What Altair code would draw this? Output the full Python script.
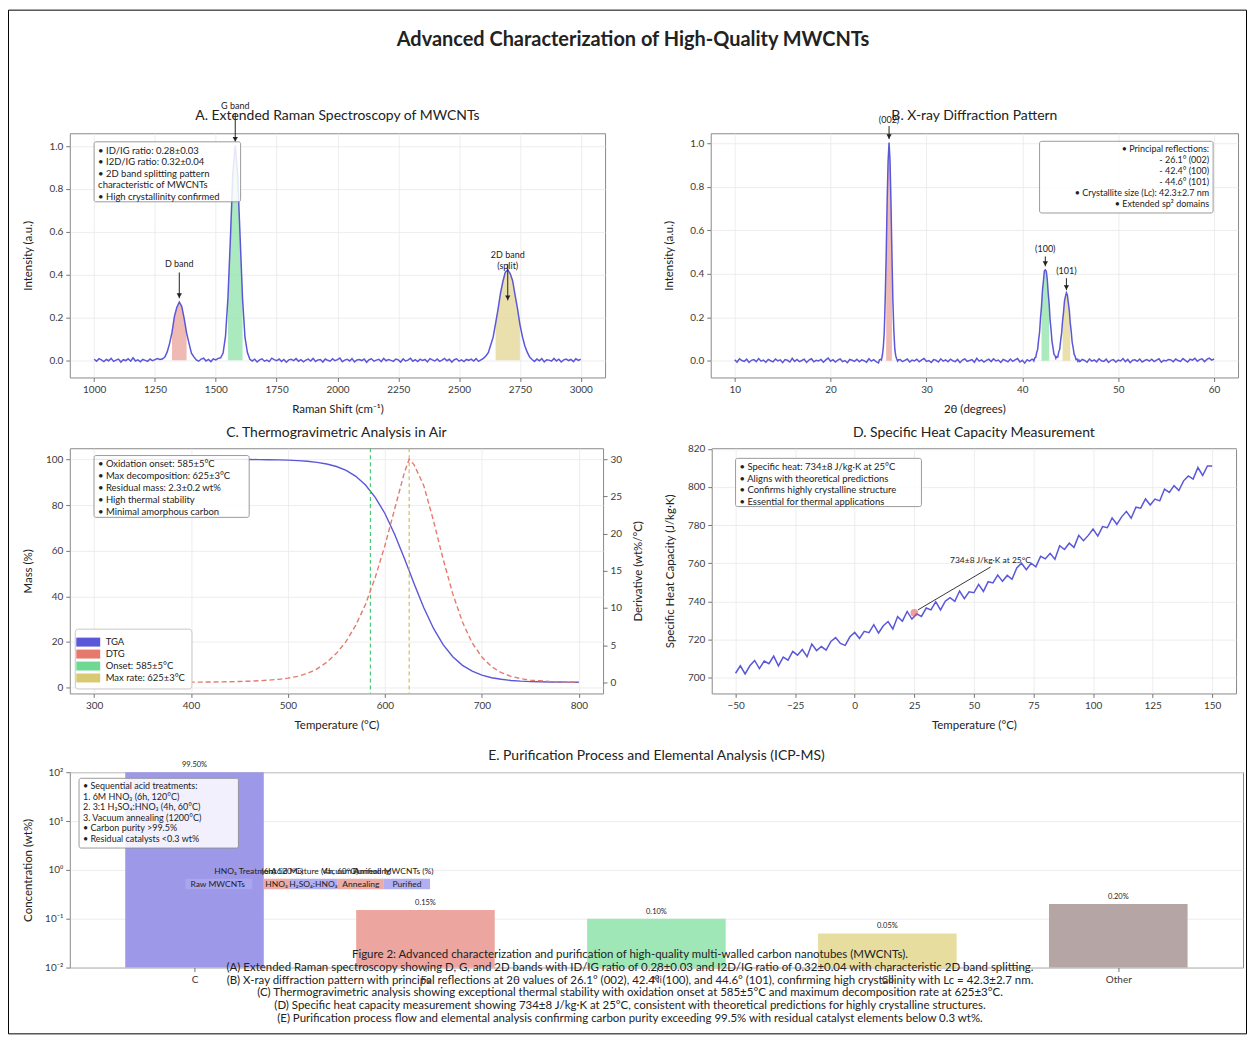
import altair as alt
import numpy as np
import pandas as pd

FONT = "Lato"
BLUE = "#5b57d9"
FRAME = "#8a8a8a"
GRID = "#e9e9e9"
INK = "#222222"

# ================= A. Raman =================
raman_shift = list(range(1000, 3001, 10))
raman_intensity = [
    0.005, -0.004, 0.008, 0.002, -0.006, 0.004, -0.002, 0.009, -0.005, 0.001,
    0.006, -0.008, 0.003, -0.001, 0.007, -0.004, 0.012, -0.003, 0.002, -0.007,
    0.004, 0.000, -0.005, 0.006, -0.002, 0.003, 0.008, 0.004,
    0.006, 0.014, 0.038, 0.078, 0.130, 0.205, 0.248, 0.272, 0.252, 0.196,
    0.128, 0.079, 0.033, 0.016, 0.002,
    -0.004, 0.006, 0.010, -0.003, 0.004, -0.006, 0.007, 0.002, 0.009,
    0.012, 0.034, 0.113, 0.292, 0.566, 0.872, 1.003, 0.862, 0.575, 0.287,
    0.108, 0.036, 0.005,
    -0.003, 0.005, -0.008, 0.002, 0.007, -0.004, 0.001, -0.006, 0.010, 0.003,
    -0.002, 0.006, -0.005, 0.004, -0.009, 0.002, 0.005, -0.001, 0.008, -0.004,
    0.003, -0.007, 0.001, 0.006, -0.003, 0.009, -0.005, 0.002, 0.004, -0.008,
    0.006, 0.000, -0.004, 0.007, -0.002, 0.003, 0.011, -0.006, 0.001, 0.005,
    -0.003, 0.008, -0.007, 0.002, 0.004, -0.001, 0.006, -0.009, 0.003, 0.007,
    -0.004, 0.001, 0.005, -0.006, 0.009, -0.002, 0.004, 0.000, -0.005, 0.006,
    0.002, -0.008, 0.007, -0.003, 0.001, 0.010, -0.004, 0.003, -0.006, 0.005,
    -0.001, 0.004, -0.007, 0.008, 0.002, -0.003, 0.006, -0.005, 0.001, 0.009,
    -0.002, 0.005, -0.008, 0.003, 0.007, -0.004, 0.002, -0.006, 0.004, 0.000,
    0.006, -0.003, 0.008, -0.005, 0.002,
    0.009, 0.020, 0.036, 0.072, 0.108, 0.172, 0.238, 0.312, 0.368, 0.412,
    0.422, 0.405, 0.372, 0.306, 0.243, 0.168, 0.112, 0.068, 0.038, 0.015,
    0.004,
    -0.005, 0.006, -0.002, 0.008, -0.007, 0.003, 0.001, -0.004, 0.009, -0.003,
    0.005, -0.008, 0.002, 0.006, -0.001, 0.004, -0.006, 0.007, 0.000, 0.005,
]
raman_band_names = ["D", "G", "2D"]
raman_band_lo = [1320, 1550, 2650]
raman_band_hi = [1380, 1610, 2750]
band_colors = ["#eaa29b", "#8fe3aa", "#e3d691"]
raman_ann_text = ["D band", "G band", "2D band\n(split)"]
raman_ann_x = [1350, 1580, 2700]
raman_ann_text_y = [0.425, 1.165, 0.47]
raman_arrow_y0 = [0.41, 1.15, 0.45]
raman_arrow_y1 = [0.29, 1.02, 0.28]
raman_box = [1000, 1602, 0.74, 1.02]
raman_box_lines = ["• ID/IG ratio: 0.28±0.03", "• I2D/IG ratio: 0.32±0.04",
                   "• 2D band splitting pattern", "\u00a0\u00a0characteristic of MWCNTs",
                   "• High crystallinity confirmed"]

# ================= B. XRD =================
xrd_two_theta = np.concatenate([
    np.linspace(10, 25, 61), np.linspace(25.1, 27.1, 21), np.linspace(27.25, 41.0, 56),
    np.linspace(41.1, 45.9, 49), np.linspace(46.0, 60.0, 57)]).round(2).tolist()
xrd_intensity = [
    0.004, -0.006, 0.009, 0.001, -0.003, 0.007, -0.008, 0.002, 0.005, -0.004,
    0.010, -0.002, 0.003, -0.007, 0.006, 0.000, -0.005, 0.008, -0.001, 0.004,
    -0.009, 0.005, 0.002, -0.006, 0.011, -0.003, 0.006, -0.004, 0.001, 0.007,
    -0.008, 0.003, 0.009, -0.005, 0.002, -0.001, 0.006, -0.007, 0.004, 0.012,
    -0.002, 0.005, -0.006, 0.003, 0.008, -0.004, 0.001, -0.009, 0.006, 0.002,
    -0.003, 0.007, -0.005, 0.004, 0.000, -0.007, 0.009, -0.002, 0.005, -0.004,
    -0.010,
    0.004, 0.006, 0.003, 0.024, 0.061, 0.131, 0.284, 0.482, 0.731, 0.918,
    1.004, 0.921, 0.729, 0.489, 0.275, 0.138, 0.053, 0.022, 0.008, -0.002, 0.005,
    0.006, -0.004, 0.002, 0.008, -0.006, 0.003, -0.001, 0.007, -0.005, 0.004,
    0.010, -0.003, 0.001, -0.008, 0.005, 0.002, -0.006, 0.009, -0.002, 0.004,
    -0.005, 0.007, 0.000, -0.004, 0.006, -0.009, 0.003, 0.008, -0.003, 0.001,
    0.005, -0.007, 0.011, -0.002, 0.004, -0.006, 0.002, 0.007, -0.004, 0.009,
    -0.001, 0.003, -0.008, 0.006, 0.001, -0.005, 0.008, -0.003, 0.004, 0.010,
    -0.006, 0.002, -0.011, 0.005, -0.002, 0.007,
    0.006, -0.001, 0.013, 0.015, 0.038, 0.052, 0.096, 0.131, 0.198,
    0.249, 0.322, 0.366, 0.414, 0.418, 0.412, 0.375, 0.311, 0.261, 0.186,
    0.141, 0.087, 0.061, 0.029, 0.025, 0.011, 0.019, 0.017, 0.041, 0.053,
    0.094, 0.127, 0.183, 0.224, 0.276, 0.296, 0.313, 0.303, 0.266, 0.232,
    0.174, 0.135, 0.085, 0.061, 0.030, 0.022, 0.006, 0.008, -0.003, 0.004,
    -0.004, 0.006, 0.001, -0.007, 0.008, -0.002, 0.004, -0.005, 0.009, 0.000,
    -0.003, 0.007, -0.008, 0.002, 0.005, -0.006, 0.003, -0.001, 0.010, -0.004,
    0.006, -0.009, 0.002, 0.004, -0.003, 0.008, -0.006, 0.001, 0.005, -0.002,
    0.007, -0.004, 0.003, 0.009, -0.007, 0.002, -0.001, 0.006, 0.004, -0.005,
    0.008, 0.001, -0.003, 0.010, 0.002, -0.006, 0.007, 0.003, 0.011, -0.002,
    0.005, 0.009, -0.004, 0.006, 0.012, 0.003, 0.008,
]
xrd_band_names = ["(002)", "(100)", "(101)"]
xrd_band_lo = [25.8, 42.0, 44.2]
xrd_band_hi = [26.4, 42.8, 45.0]
xrd_ann_text = ["(002)", "(100)", "(101)"]
xrd_ann_x = [26.1, 42.4, 44.6]
xrd_ann_text_y = [1.085, 0.49, 0.39]
xrd_arrow_y0 = [1.08, 0.48, 0.38]
xrd_arrow_y1 = [1.02, 0.435, 0.325]
xrd_box = [41.8, 59.9, 0.68, 1.01]
xrd_box_lines = ["• Principal reflections:", "- 26.1° (002)", "- 42.4° (100)", "- 44.6° (101)",
                 "• Crystallite size (Lc): 42.3±2.7 nm", "• Extended sp² domains"]

# ================= C. TGA =================
tga_temp = [300, 310, 320, 330, 340, 350, 360, 370, 380, 390, 400, 410, 420, 430, 440,
            450, 460, 470, 480, 490, 500, 510, 520, 530, 540, 550, 560, 570, 580, 590,
            600, 610, 620, 625, 630, 640, 650, 660, 670, 680, 690, 700, 710, 720, 730,
            740, 750, 760, 770, 780, 790, 800]
tga_mass = [100.0, 100.0, 100.0, 100.0, 100.0, 100.0, 100.0, 100.0, 100.0, 100.0,
            100.0, 100.0, 100.0, 100.0, 100.0,
            100.0, 99.95, 99.92, 99.87, 99.79, 99.67, 99.48, 99.18, 98.7, 98.0,
            96.9, 95.2, 92.6, 88.8, 83.4, 76.3, 67.2, 56.7, 51.2,
            45.6, 35.1, 26.0, 18.8, 13.5, 9.7, 7.2, 5.4, 4.3, 3.6, 3.1, 2.8, 2.6,
            2.5, 2.4, 2.4, 2.35, 2.3]
dtg_rate = [0.0, 0.0, 0.0, 0.0, 0.0, 0.0, 0.0, 0.0, 0.01, 0.01,
            0.02, 0.03, 0.04, 0.06, 0.08, 0.11, 0.15, 0.21, 0.29, 0.40,
            0.56, 0.8, 1.2, 1.8, 2.7, 3.9, 5.5, 7.7, 10.5, 14.1, 18.4, 23.3, 28.2,
            30.0,
            29.3, 26.5, 21.8, 16.6, 11.9, 8.1, 5.3, 3.4, 2.1, 1.3, 0.8, 0.5, 0.3,
            0.2, 0.1, 0.06, 0.04, 0.02]
tga_legend_names = ["TGA", "DTG", "Onset: 585±5°C", "Max rate: 625±3°C"]
tga_legend_colors = ["#5b57d9", "#e57a6c", "#6fd893", "#d9c972"]
onset_temp = 585
maxrate_temp = 625
tga_box = [300, 460, 74.6, 101.7]
tga_box_lines = ["• Oxidation onset: 585±5°C", "• Max decomposition: 625±3°C",
                 "• Residual mass: 2.3±0.2 wt%", "• High thermal stability",
                 "• Minimal amorphous carbon"]

# ================= D. Cp =================
cp_temp = list(range(-50, 151, 2))
cp_value = [
    702.3, 706.2, 701.9, 706.2, 709.0, 704.7, 708.7, 707.3, 711.3, 706.2,
    710.8, 709.2, 713.8, 711.8, 714.7, 711.0, 717.6, 714.2, 716.3, 714.4,
    719.0, 721.0, 717.9, 716.9, 721.4, 723.7, 720.5, 724.3, 723.6, 727.8,
    723.4, 727.2, 729.4, 725.5, 732.0, 729.6, 734.7, 730.7, 733.4, 732.1,
    736.5, 735.5, 739.8, 735.5, 740.1, 741.9, 740.0, 745.4, 741.4, 745.0,
    744.5, 748.9, 745.2, 750.3, 749.7, 753.8, 750.5, 753.6, 751.6, 757.5,
    760.0, 756.6, 760.0, 758.1, 763.6, 762.3, 765.2, 762.1, 769.2, 767.2,
    770.5, 768.3, 774.6, 771.8, 774.6, 777.9, 774.2, 779.2, 778.6, 783.8,
    780.4, 784.3, 787.2, 783.6, 789.4, 788.9, 793.7, 790.5, 793.6, 792.7,
    798.9, 797.1, 800.7, 798.1, 803.2, 805.8, 804.1, 810.2, 806.0, 811.0,
    811.0,
]
cp_mark_t = [25]
cp_mark_v = [734]
cp_ann_text = ["734±8 J/kg·K at 25°C"]
cp_ann_x = [40]
cp_ann_y = [761.5]
cp_line_x0, cp_line_y0, cp_line_x1, cp_line_y1 = [26.5], [735.5], [57], [758]
cp_box = [-50, 28, 789.7, 815]
cp_box_lines = ["• Specific heat: 734±8 J/kg·K at 25°C", "• Aligns with theoretical predictions",
                "• Confirms highly crystalline structure", "• Essential for thermal applications"]

# ================= E. ICP-MS =================
elements = ["C", "Fe", "Ni", "Co", "Other"]
element_pos = [0, 1, 2, 3, 4]
element_conc = [99.50, 0.15, 0.10, 0.05, 0.20]
element_colors = ["#9e98e8", "#eca69f", "#9fe7b6", "#e7dd9f", "#b5a5a5"]
e_box = [-0.50, 0.19, 2.8, 75]
e_box_lines = ["• Sequential acid treatments:", "\u00a0\u00a0\u00a01. 6M HNO₃ (6h, 120°C)",
               "\u00a0\u00a0\u00a02. 3:1 H₂SO₄:HNO₃ (4h, 60°C)", "\u00a0\u00a0\u00a03. Vacuum annealing (1200°C)",
               "• Carbon purity >99.5%", "• Residual catalysts <0.3 wt%"]
flow_box_x0 = [-0.04, 0.30, 0.41, 0.62, 0.82]
flow_box_x1 = [0.25, 0.41, 0.62, 0.82, 1.02]
flow_box_y0 = [0.40, 0.40, 0.40, 0.40, 0.40]
flow_box_y1 = [0.66, 0.66, 0.66, 0.66, 0.66]
flow_box_fill = ["#aaa6f0", "#eaa39b", "#aaa6f0", "#eaa39b", "#aaa6f0"]
flow_box_label = ["Raw MWCNTs", "HNO₃", "H₂SO₄:HNO₃", "Annealing", "Purified"]
flow_box_label_x = [0.10, 0.355, 0.515, 0.72, 0.92]
flow_top_text = ["HNO₃ Treatment", "(6h, 120°C)", "Acid Mixture (4h, 60°C)", "Vacuum Annealing", "Purified MWCNTs (%)"]
flow_top_x = [0.22, 0.38, 0.52, 0.70, 0.86]
flow_top_y = [0.95, 0.95, 0.95, 0.95, 0.95]
caption_lines = [
    "Figure 2: Advanced characterization and purification of high-quality multi-walled carbon nanotubes (MWCNTs).",
    "(A) Extended Raman spectroscopy showing D, G, and 2D bands with ID/IG ratio of 0.28±0.03 and I2D/IG ratio of 0.32±0.04 with characteristic 2D band splitting.",
    "(B) X-ray diffraction pattern with principal reflections at 2θ values of 26.1° (002), 42.4° (100), and 44.6° (101), confirming high crystallinity with Lc = 42.3±2.7 nm.",
    "(C) Thermogravimetric analysis showing exceptional thermal stability with oxidation onset at 585±5°C and maximum decomposition rate at 625±3°C.",
    "(D) Specific heat capacity measurement showing 734±8 J/kg·K at 25°C, consistent with theoretical predictions for highly crystalline structures.",
    "(E) Purification process flow and elemental analysis confirming carbon purity exceeding 99.5% with residual catalyst elements below 0.3 wt%.",
]

# ================= helpers =================
XAX = dict(grid=True, tickSize=4, labelPadding=3, titlePadding=9, labelOverlap=False)
YAX = dict(grid=True, tickSize=4, labelPadding=3, titlePadding=10, minExtent=26, maxExtent=26,
           labelOverlap=False)


def make_enc(scale, axis):
    def f(field):
        return dict(field=field, type="quantitative", scale=scale, axis=axis)
    return f


def title_mark(text, w, y):
    return alt.Chart(pd.DataFrame({"t": [text]})).mark_text(
        fontSize=14, font=FONT, color=INK, align="center", baseline="middle"
    ).encode(x=alt.value(w / 2), y=alt.value(y), text="t:N")


def text_box(X, Y, box, lines, align="left", fs=9, lh=11.5):
    x0, x1, y0, y1 = box
    rect = alt.Chart(pd.DataFrame({"bx0": [x0], "bx1": [x1], "by0": [y0], "by1": [y1]})).mark_rect(
        fill="white", fillOpacity=0.85, stroke="#8f8f8f", strokeWidth=0.9, cornerRadius=2
    ).encode(x=alt.X(**X("bx0")), x2="bx1", y=alt.Y(**Y("by0")), y2="by1")
    tx = x0 if align == "left" else x1
    txt = alt.Chart(pd.DataFrame({"tx": [tx], "ty": [y1], "t": ["\n".join(lines)]})).mark_text(
        align=align, baseline="top", dx=4 if align == "left" else -4, dy=4,
        fontSize=fs, lineHeight=lh, lineBreak="\n", font=FONT, color=INK
    ).encode(x=alt.X(**X("tx")), y=alt.Y(**Y("ty")), text="t:N")
    return [rect, txt]


def arrows(X, Y, xs, y0s, y1s):
    df = pd.DataFrame({"ax": xs, "ay0": y0s, "ay1": y1s})
    shaft = alt.Chart(df).mark_rule(color=INK, strokeWidth=1).encode(
        x=alt.X(**X("ax")), y=alt.Y(**Y("ay0")), y2="ay1")
    head = alt.Chart(df).mark_point(shape="triangle-down", filled=True, size=28, color=INK,
                                    opacity=1, yOffset=-2.6).encode(
        x=alt.X(**X("ax")), y=alt.Y(**Y("ay1")))
    return [shaft, head]


def band_fill_df(xv, yv, names, lo, hi, colors):
    rows = []
    for n, a, b, c in zip(names, lo, hi, colors):
        for x, y in zip(xv, yv):
            if a <= x <= b:
                rows.append({"x": x, "y": y, "band": n, "col": c})
    return pd.DataFrame(rows)


# ================= Panel A =================
W_A, H_A = 537, 245
XA = make_enc(alt.Scale(domain=[900, 3100], nice=False, zero=False),
              alt.Axis(title="Raman Shift (cm⁻¹)", values=list(range(1000, 3001, 250)), format="d", **XAX))
YA = make_enc(alt.Scale(domain=[-0.08, 1.06], nice=False, zero=False),
              alt.Axis(title="Intensity (a.u.)", values=[0, 0.2, 0.4, 0.6, 0.8, 1.0], format=".1f", **YAX))
df_raman = pd.DataFrame({"x": raman_shift, "y": raman_intensity})
fill_A = alt.Chart(band_fill_df(raman_shift, raman_intensity, raman_band_names, raman_band_lo, raman_band_hi,
                                band_colors)).mark_area(opacity=0.75).encode(
    x=alt.X(**XA("x")), y=alt.Y(**YA("y")), y2=alt.datum(0),
    fill=alt.Fill("col:N", scale=None), detail="band:N")
line_A = alt.Chart(df_raman).mark_line(color=BLUE, strokeWidth=1.5).encode(x=alt.X(**XA("x")), y=alt.Y(**YA("y")))
ann_A = alt.Chart(pd.DataFrame({"x": raman_ann_x, "y": raman_ann_text_y, "t": raman_ann_text})).mark_text(
    baseline="bottom", fontSize=9, lineBreak="\n", lineHeight=11, color=INK).encode(
    x=alt.X(**XA("x")), y=alt.Y(**YA("y")), text="t:N")
panel_A = alt.layer(fill_A, line_A, *arrows(XA, YA, raman_ann_x, raman_arrow_y0, raman_arrow_y1), ann_A,
                    *text_box(XA, YA, raman_box, raman_box_lines, fs=9.5),
                    title_mark("A. Extended Raman Spectroscopy of MWCNTs", W_A, -17)).properties(width=W_A, height=H_A)

# ================= Panel B =================
W_B, H_B = 529, 245
XB = make_enc(alt.Scale(domain=[7.5, 62.5], nice=False, zero=False),
              alt.Axis(title="2θ (degrees)", values=[10, 20, 30, 40, 50, 60], format="d", **XAX))
YB = make_enc(alt.Scale(domain=[-0.077, 1.047], nice=False, zero=False),
              alt.Axis(title="Intensity (a.u.)", values=[0, 0.2, 0.4, 0.6, 0.8, 1.0], format=".1f", **YAX))
df_xrd = pd.DataFrame({"x": xrd_two_theta, "y": xrd_intensity})
fill_B = alt.Chart(band_fill_df(xrd_two_theta, xrd_intensity, xrd_band_names, xrd_band_lo, xrd_band_hi,
                                band_colors)).mark_area(opacity=0.75).encode(
    x=alt.X(**XB("x")), y=alt.Y(**YB("y")), y2=alt.datum(0),
    fill=alt.Fill("col:N", scale=None), detail="band:N")
line_B = alt.Chart(df_xrd).mark_line(color=BLUE, strokeWidth=1.5).encode(x=alt.X(**XB("x")), y=alt.Y(**YB("y")))
ann_B = alt.Chart(pd.DataFrame({"x": xrd_ann_x, "y": xrd_ann_text_y, "t": xrd_ann_text})).mark_text(
    baseline="bottom", fontSize=9, color=INK).encode(x=alt.X(**XB("x")), y=alt.Y(**YB("y")), text="t:N")
panel_B = alt.layer(fill_B, line_B, *arrows(XB, YB, xrd_ann_x, xrd_arrow_y0, xrd_arrow_y1),
                    title_mark("B. X-ray Diffraction Pattern", W_B, -17), ann_B,
                    *text_box(XB, YB, xrd_box, xrd_box_lines, align="right", lh=11)).properties(width=W_B, height=H_B)

# ================= Panel C =================
W_C, H_C = 535, 246
XC = make_enc(alt.Scale(domain=[275, 825], nice=False, zero=False),
              alt.Axis(title="Temperature (°C)", values=[300, 400, 500, 600, 700, 800], format="d", **XAX))
YC = make_enc(alt.Scale(domain=[-2.6, 104.9], nice=False, zero=False),
              alt.Axis(title="Mass (%)", values=[0, 20, 40, 60, 80, 100], format="d", **YAX))
YC2 = make_enc(alt.Scale(domain=[-1.5, 31.5], nice=False, zero=False),
               alt.Axis(title="Derivative (wt%/°C)", orient="right", values=[0, 5, 10, 15, 20, 25, 30], format="d",
                        grid=False, tickSize=4, labelPadding=3, titlePadding=12, minExtent=18, maxExtent=18,
                        titleAngle=270, titleBaseline="top"))
df_tga = pd.DataFrame({"t": tga_temp, "m": tga_mass, "d": dtg_rate})
tga_line = alt.Chart(df_tga).mark_line(color=tga_legend_colors[0], strokeWidth=1.4).encode(
    x=alt.X(**XC("t")), y=alt.Y(**YC("m")))
rule_on = alt.Chart(pd.DataFrame({"t": [onset_temp]})).mark_rule(
    color="#3fc46c", strokeDash=[4, 3], strokeWidth=1.1).encode(x=alt.X(**XC("t")))
rule_max = alt.Chart(pd.DataFrame({"t": [maxrate_temp]})).mark_rule(
    color="#c9b85a", strokeDash=[4, 3], strokeWidth=1.1).encode(x=alt.X(**XC("t")))
legend_pts = alt.Chart(pd.DataFrame({"t": [0, 0, 0, 0], "m": [50, 50, 50, 50], "series": tga_legend_names})).mark_square(
    clip=True, size=10).encode(
    x=alt.X(**XC("t")), y=alt.Y(**YC("m")),
    color=alt.Color("series:N", scale=alt.Scale(domain=tga_legend_names, range=tga_legend_colors),
                    legend=alt.Legend(title=None, orient="bottom-left", offset=5, fillColor="white",
                                      strokeColor="#c8c8c8", padding=6, cornerRadius=3, labelFontSize=9.5,
                                      labelFont=FONT, labelColor=INK, symbolType="M-1.6,-0.6H1.6V0.6H-1.6Z",
                                      symbolSize=225, symbolStrokeWidth=0, rowPadding=0, labelOffset=10,
                                      symbolOpacity=1)))
left_C = alt.layer(tga_line, rule_on, rule_max, legend_pts, *text_box(XC, YC, tga_box, tga_box_lines, fs=9.5, lh=12),
                   title_mark("C. Thermogravimetric Analysis in Air", W_C, -15))
dtg_line = alt.Chart(df_tga).mark_line(color="#e57a6c", strokeDash=[5, 3], strokeWidth=1.4).encode(
    x=alt.X(**XC("t")), y=alt.Y(**YC2("d")))
panel_C = alt.layer(left_C, dtg_line).resolve_scale(y="independent").properties(width=W_C, height=H_C)

# ================= Panel D =================
W_D, H_D = 526, 246
XD = make_enc(alt.Scale(domain=[-60, 160], nice=False, zero=False),
              alt.Axis(title="Temperature (°C)", values=[-50, -25, 0, 25, 50, 75, 100, 125, 150], format="d", **XAX))
YD = make_enc(alt.Scale(domain=[691.7, 820.3], nice=False, zero=False),
              alt.Axis(title="Specific Heat Capacity (J/kg·K)", values=[700, 720, 740, 760, 780, 800, 820],
                       format="d", **YAX))
cp_line = alt.Chart(pd.DataFrame({"t": cp_temp, "v": cp_value})).mark_line(color=BLUE, strokeWidth=1.5).encode(
    x=alt.X(**XD("t")), y=alt.Y(**YD("v")))
cp_pt = alt.Chart(pd.DataFrame({"t": cp_mark_t, "v": cp_mark_v})).mark_point(
    filled=True, color="#e05050", size=60, opacity=0.55).encode(x=alt.X(**XD("t")), y=alt.Y(**YD("v")))
cp_lead = alt.Chart(pd.DataFrame({"a": cp_line_x0, "b": cp_line_y0, "c": cp_line_x1, "d": cp_line_y1})).mark_rule(
    color=INK, strokeWidth=0.9).encode(x=alt.X(**XD("a")), y=alt.Y(**YD("b")), x2="c", y2="d")
cp_txt = alt.Chart(pd.DataFrame({"t": cp_ann_x, "v": cp_ann_y, "s": cp_ann_text})).mark_text(
    align="left", baseline="middle", fontSize=8.5, color=INK).encode(x=alt.X(**XD("t")), y=alt.Y(**YD("v")), text="s:N")
panel_D = alt.layer(cp_line, cp_pt, cp_lead, cp_txt, *text_box(XD, YD, cp_box, cp_box_lines, fs=9.5, lh=11.5),
                    title_mark("D. Specific Heat Capacity Measurement", W_D, -15)).properties(width=W_D, height=H_D)

# ================= Panel E =================
W_E, H_E = 1177, 196
log_label = ("datum.value >= 50 ? '10²' : datum.value >= 5 ? '10¹' : datum.value >= 0.5 ? '10⁰' : "
             "datum.value >= 0.05 ? '10⁻¹' : '10⁻²'")
XE = make_enc(alt.Scale(domain=[-0.54, 4.54], nice=False, zero=False),
              alt.Axis(title=None, values=element_pos, labelExpr="%s[datum.value]" % str(elements),
                       grid=False, tickSize=4, labelPadding=3, labelOverlap=False))
YE = make_enc(alt.Scale(type="log", domain=[0.01, 100], nice=False),
              alt.Axis(title="Concentration (wt%)", values=[0.01, 0.1, 1, 10, 100], labelExpr=log_label, **YAX))
df_E = pd.DataFrame({"pos": element_pos, "conc": element_conc, "el": elements, "col": element_colors})
bars_E = alt.Chart(df_E).transform_calculate(lo="datum.pos - 0.3", hi="datum.pos + 0.3").mark_rect().encode(
    x=alt.X(**XE("lo")), x2="hi", y=alt.Y(**YE("conc")), y2=alt.datum(0.01),
    fill=alt.Fill("col:N", scale=None))
lab_E = alt.Chart(df_E).transform_calculate(lab="format(datum.conc, '.2f') + '%'").mark_text(
    baseline="bottom", dy=-3, fontSize=7.5, color=INK).encode(
    x=alt.X(**XE("pos")), y=alt.Y(**YE("conc")), text="lab:N")
flow_rect = alt.Chart(pd.DataFrame({"a": flow_box_x0, "b": flow_box_x1, "c": flow_box_y0, "d": flow_box_y1,
                                    "f": flow_box_fill})).mark_rect(opacity=0.9).encode(
    x=alt.X(**XE("a")), x2="b", y=alt.Y(**YE("c")), y2="d", fill=alt.Fill("f:N", scale=None))
flow_lab = alt.Chart(pd.DataFrame({"x": flow_box_label_x, "y": [0.52] * 5, "t": flow_box_label})).mark_text(
    fontSize=8.5, color=INK, baseline="middle").encode(x=alt.X(**XE("x")), y=alt.Y(**YE("y")), text="t:N")
flow_top = alt.Chart(pd.DataFrame({"x": flow_top_x, "y": flow_top_y, "t": flow_top_text})).mark_text(
    fontSize=8.5, color=INK, baseline="middle").encode(x=alt.X(**XE("x")), y=alt.Y(**YE("y")), text="t:N")
caption = alt.Chart(pd.DataFrame({"t": ["\n".join(caption_lines)]})).mark_text(
    align="center", baseline="top", fontSize=11.5, lineHeight=13, lineBreak="\n", color=INK).encode(
    x=alt.value(562), y=alt.value(177), text="t:N")
panel_E = alt.layer(bars_E, lab_E, *text_box(XE, YE, e_box, e_box_lines, fs=9, lh=10.5), flow_rect, flow_lab, flow_top,
                    title_mark("E. Purification Process and Elemental Analysis (ICP-MS)", W_E, -16),
                    caption).properties(width=W_E, height=H_E)

# ================= figure border (drawn relative to panel A's frame) =================
border_left, border_right, border_top, border_bottom = -61.5, 1180.5, -121.5, 905.5
one = pd.DataFrame({"k": [0]})
border_layers = [
    alt.Chart(one).mark_rule(color="#000000", strokeWidth=1).encode(
        x=alt.value(border_left), y=alt.value(border_top), y2=alt.value(border_bottom)),
    alt.Chart(one).mark_rule(color="#000000", strokeWidth=1).encode(
        x=alt.value(border_right), y=alt.value(border_top), y2=alt.value(border_bottom)),
    alt.Chart(one).mark_rule(color="#000000", strokeWidth=1).encode(
        x=alt.value(border_left), x2=alt.value(border_right), y=alt.value(border_top)),
    alt.Chart(one).mark_rule(color="#000000", strokeWidth=1).encode(
        x=alt.value(border_left), x2=alt.value(border_right), y=alt.value(border_bottom)),
]
border = alt.layer(*border_layers).properties(width=1, height=1, view=alt.ViewBackground(strokeOpacity=0))

# ================= assemble =================
row1 = alt.hconcat(panel_A, panel_B, spacing=57)
row2 = alt.hconcat(panel_C, panel_D, spacing=19).resolve_scale(color="independent")
top_rows = alt.vconcat(row1, row2, spacing=10)
inner = alt.vconcat(top_rows, panel_E, spacing=17).resolve_scale(color="independent").properties(
    title=alt.TitleParams("Advanced Characterization of High-Quality MWCNTs", fontSize=20, fontWeight="bold",
                          font=FONT, anchor="middle", offset=51, color=INK))
chart = alt.vconcat(border, inner, spacing=1, bounds="flush").resolve_scale(color="independent").properties(
    padding={"left": 0, "top": 0, "right": 0, "bottom": 0},
).configure_view(stroke=FRAME, strokeWidth=1).configure_axis(
    labelFont=FONT, titleFont=FONT, labelFontSize=10, titleFontSize=11.5, titleFontWeight="normal",
    labelColor="#3a3a3a", titleColor=INK, gridColor=GRID, gridWidth=0.8, domain=False,
    tickColor="#555555", tickWidth=0.8
).configure_text(font=FONT).configure_legend(labelFont=FONT)

chart.save("out.html", embed_options={"renderer": "svg", "actions": False})
